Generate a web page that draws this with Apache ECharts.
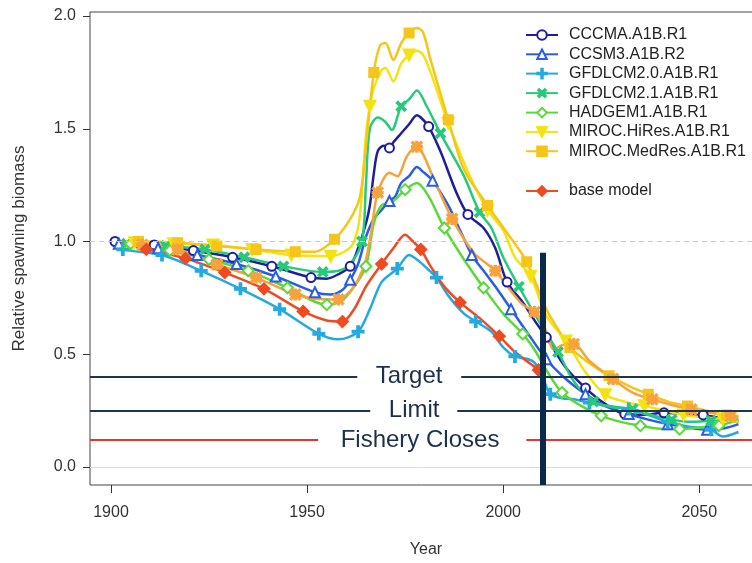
<!DOCTYPE html>
<html>
<head>
<meta charset="utf-8">
<script src="https://cdn.jsdelivr.net/npm/echarts@6/dist/echarts.min.js"></script>
<style>html,body{margin:0;padding:0;background:#fff}#c{width:752px;height:563px}</style>
</head>
<body>
<div id="c"></div>
<script>
// ---------- data ----------
const seriesNames = ['CCCMA.A1B.R1','CCSM3.A1B.R2','GFDLCM2.0.A1B.R1','GFDLCM2.1.A1B.R1','HADGEM1.A1B.R1','MIROC.HiRes.A1B.R1','MIROC.MedRes.A1B.R1','orange','base model'];
const xTicks = [1900, 1950, 2000, 2050];
const yTicks = [0, 0.5, 1.0, 1.5, 2.0];

const cccma = [[1901,1.0],[1911,0.985],[1921,0.96],[1931,0.93],[1941,0.89],[1951,0.84],[1955,0.835],[1958,0.855],[1961,0.89],[1963,0.97],[1965,1.08],[1966,1.16],[1967,1.3],[1968,1.4],[1969.5,1.425],[1971,1.415],[1972,1.44],[1974,1.48],[1976,1.52],[1978,1.56],[1979,1.55],[1981,1.51],[1984,1.4],[1988,1.22],[1991,1.12],[1995,1.06],[1998,0.97],[2001,0.82],[2005,0.73],[2008,0.65],[2011,0.575],[2016,0.44],[2021,0.35],[2026,0.28],[2031,0.235],[2036,0.232],[2041,0.24],[2046,0.235],[2051,0.231],[2056,0.215],[2060,0.2]];
const cccmaMarks = [1901,1911,1921,1931,1941,1951,1961,1971,1981,1991,2001,2011,2021,2031,2041,2051];

const ccsm3 = [[1901,1.0],[1902,0.99],[1912,0.97],[1922,0.94],[1932,0.9],[1942,0.845],[1952,0.775],[1956,0.765],[1959,0.785],[1961,0.83],[1963,0.9],[1965,1.02],[1967,1.1],[1969,1.14],[1971,1.18],[1972.5,1.2],[1974,1.26],[1976,1.29],[1978,1.33],[1979.5,1.31],[1982,1.27],[1986,1.16],[1989,1.05],[1992,0.94],[1995,0.87],[1998,0.8],[2002,0.7],[2006,0.6],[2011,0.478],[2016,0.39],[2021,0.323],[2026,0.27],[2032,0.235],[2037,0.21],[2042,0.19],[2047,0.175],[2052,0.165],[2056,0.17],[2060,0.19]];
const ccsm3Marks = [1902,1912,1922,1932,1942,1952,1961,1971,1982,1992,2002,2011,2021,2032,2042,2052];

const gfdl20 = [[1901,0.99],[1903,0.965],[1913,0.94],[1923,0.87],[1933,0.79],[1943,0.7],[1953,0.59],[1958,0.566],[1963,0.6],[1966,0.7],[1969,0.82],[1973,0.88],[1976,0.94],[1978,0.92],[1980,0.89],[1983,0.84],[1986,0.76],[1990,0.68],[1993,0.645],[1997,0.6],[2000,0.53],[2003,0.49],[2006,0.48],[2008,0.463],[2010,0.4],[2012,0.323],[2015,0.305],[2018,0.3],[2022,0.285],[2027,0.27],[2032,0.257],[2037,0.23],[2042,0.2],[2047,0.18],[2053,0.165],[2056,0.135],[2060,0.155]];
const gfdl20Marks = [1903,1913,1923,1933,1943,1953,1963,1973,1983,1993,2003,2012,2022,2032,2042,2053];

const gfdl21 = [[1901,1.0],[1904,0.99],[1914,0.98],[1924,0.965],[1934,0.93],[1944,0.89],[1954,0.865],[1958,0.87],[1961,0.9],[1964,1.0],[1965,1.25],[1966,1.5],[1968,1.55],[1970,1.53],[1971.6,1.495],[1974,1.6],[1976,1.63],[1978,1.67],[1980.5,1.6],[1984,1.48],[1990,1.29],[1994,1.13],[1997,1.06],[2000,0.93],[2004,0.8],[2009,0.65],[2014,0.51],[2018,0.38],[2023,0.29],[2028,0.265],[2033,0.257],[2038,0.23],[2043,0.21],[2048,0.2],[2053,0.205],[2060,0.21]];
const gfdl21Marks = [1904,1914,1924,1934,1944,1954,1964,1974,1984,1994,2004,2014,2023,2033,2043,2053];

const hadgem = [[1901,1.0],[1905,0.99],[1915,0.96],[1925,0.92],[1935,0.87],[1945,0.795],[1955,0.72],[1959,0.74],[1962,0.8],[1965,0.89],[1967,1.08],[1969,1.16],[1972,1.18],[1975,1.23],[1978,1.26],[1981,1.2],[1985,1.06],[1990,0.92],[1995,0.795],[2000,0.68],[2005,0.59],[2008,0.52],[2011,0.43],[2015,0.33],[2020,0.27],[2025,0.227],[2030,0.2],[2035,0.183],[2040,0.17],[2045,0.168],[2050,0.175],[2055,0.183],[2060,0.21]];
const hadgemMarks = [1905,1915,1925,1935,1945,1955,1965,1975,1985,1995,2005,2015,2025,2035,2045,2055];

const hires = [[1901,1.0],[1906,0.995],[1916,0.99],[1926,0.985],[1936,0.965],[1946,0.94],[1956,0.935],[1960,0.96],[1962,1.0],[1963.5,1.12],[1965,1.47],[1966,1.6],[1967,1.68],[1969,1.76],[1970,1.77],[1972,1.71],[1974,1.79],[1976,1.827],[1978,1.846],[1979.5,1.83],[1981.5,1.75],[1986,1.525],[1991.5,1.29],[1996,1.14],[2000,1.05],[2003,0.93],[2007,0.846],[2011,0.67],[2016,0.559],[2021,0.42],[2026,0.32],[2031,0.29],[2036,0.271],[2041,0.25],[2046,0.23],[2051,0.22],[2056,0.212],[2060,0.2]];
const hiresMarks = [1906,1916,1926,1936,1946,1956,1966,1976,1986,1996,2007,2016,2026,2036,2046,2056];

const medres = [[1901,1.0],[1907,1.0],[1917,0.995],[1927,0.98],[1937,0.965],[1947,0.955],[1952,0.955],[1957,1.01],[1961,1.1],[1963.5,1.2],[1965,1.42],[1967,1.75],[1968.6,1.87],[1970,1.88],[1972,1.805],[1974,1.88],[1976,1.925],[1978,1.947],[1979.5,1.93],[1981.5,1.805],[1986,1.54],[1990,1.32],[1996,1.16],[2000.5,1.05],[2006,0.91],[2011,0.7],[2014,0.61],[2017,0.53],[2022,0.46],[2027,0.405],[2032,0.36],[2037,0.323],[2042,0.29],[2047,0.27],[2052,0.25],[2057,0.23],[2060,0.227]];
const medresMarks = [1907,1917,1927,1937,1947,1957,1967,1976,1986,1996,2006,2017,2027,2037,2047,2057];

const orange = [[1901,1.0],[1908,0.985],[1917,0.965],[1927,0.898],[1937,0.84],[1947,0.765],[1953,0.745],[1958,0.743],[1961,0.78],[1963,0.83],[1965,0.92],[1966.5,1.06],[1968,1.217],[1971,1.305],[1973,1.29],[1975.5,1.38],[1978,1.42],[1979.5,1.39],[1982,1.29],[1987,1.1],[1992.5,0.95],[1998,0.87],[2002,0.78],[2005,0.72],[2008,0.687],[2010.5,0.62],[2013,0.52],[2015,0.54],[2018,0.545],[2022,0.47],[2028,0.39],[2033,0.33],[2038,0.3],[2043,0.275],[2048,0.255],[2053,0.24],[2058,0.225],[2060,0.22]];
const orangeMarks = [1908,1917,1927,1937,1947,1958,1968,1978,1987,1998,2008,2018,2028,2038,2048,2058];

const baseModel = [[1901,1.0],[1909,0.965],[1919,0.925],[1929,0.862],[1939,0.79],[1949,0.69],[1955,0.65],[1959,0.645],[1962,0.7],[1965,0.8],[1969,0.9],[1972,0.97],[1975,1.03],[1977,1.0],[1979,0.965],[1981.5,0.89],[1985,0.8],[1989,0.73],[1994,0.66],[1999,0.58],[2003,0.51],[2006,0.47],[2009,0.43],[2010,0.41]];
const baseMarks = [1909,1919,1929,1939,1949,1959,1969,1979,1989,1999,2009];

// reference levels
const refNames = ['Target', 'Limit', 'Fishery Closes'];
const refValues = [0.4, 0.25, 0.12];
const refGaps = [[1962.8, 1989.3], [1966.1, 1988.3], [1952.8, 2005.9]];
const refLabelYears = [1976.0, 1977.3, 1978.8];
const currentYear = 2010;
const currentLineTop = 0.95;

// ---------- chart ----------
const FONT = "'Liberation Sans', Arial, Helvetica, sans-serif";
const X_MIN = 1894.64, X_MAX = 2066;
const Y_MIN = -0.08, Y_MAX = 2.018;

const plusPath = 'path://M4.2,0h1.6v4.2h4.2v1.6h-4.2v4.2h-1.6v-4.2h-4.2v-1.6h4.2z';
const starPath = 'path://M4.3,0h1.4v10h-1.4z M0,4.3h10v1.4h-10z M0,1L1,0L10,9L9,10z M9,0L10,1L1,10L0,9z';

function build(pairs, marks) {
  return pairs.map(p => marks.indexOf(p[0]) >= 0 ? { value: p } : { value: p, symbol: 'none' });
}

const specs = [
  { data: cccma, marks: cccmaMarks, color: '#1f1f9c', symbol: 'emptyCircle', size: 9 },
  { data: ccsm3, marks: ccsm3Marks, color: '#2b5ce6', symbol: 'emptyTriangle', size: 10 },
  { data: gfdl20, marks: gfdl20Marks, color: '#25a9e0', symbol: plusPath, size: 11 },
  { data: gfdl21, marks: gfdl21Marks, color: '#27c97a', symbol: plusPath, size: 11, rotate: 45 },
  { data: hadgem, marks: hadgemMarks, color: '#5ad93a', symbol: 'emptyDiamond', size: 11 },
  { data: hires, marks: hiresMarks, color: '#f2e311', symbol: 'triangle', size: 11, rotate: 180 },
  { data: medres, marks: medresMarks, color: '#f6c51a', symbol: 'rect', size: 9 },
  { data: orange, marks: orangeMarks, color: '#f7a23a', symbol: starPath, size: 10 },
  { data: baseModel, marks: baseMarks, color: '#ef4a22', symbol: 'diamond', size: 11 }
];

const series = specs.map((s, i) => ({
  name: seriesNames[i],
  type: 'line',
  z: 3,
  smooth: 0.3,
  data: build(s.data, s.marks),
  symbol: s.symbol,
  symbolSize: s.size,
  symbolRotate: s.rotate || 0,
  showSymbol: true,
  lineStyle: { color: s.color, width: 2.5 },
  itemStyle: { color: s.color, borderColor: s.color, borderWidth: 2 },
  emphasis: { disabled: true }
}));

// background guide lines (1.0 dashed, 0 solid)
series.unshift({
  name: 'guides', type: 'line', data: [], z: 1, silent: true,
  markLine: {
    silent: true, symbol: ['none', 'none'], animation: false, label: { show: false },
    data: [
      [{ coord: [X_MIN, 1.0], lineStyle: { color: '#c8c8c8', width: 1, type: [5, 4] } }, { coord: [X_MAX, 1.0] }],
      [{ coord: [X_MIN, 0], lineStyle: { color: '#dcdcdc', width: 1, type: 'solid' } }, { coord: [X_MAX, 0] }]
    ]
  }
});

// reference lines + labels + current year line
const refLineData = [];
const refColors = ['#1d3553', '#1d3553', '#e8352c'];
refValues.forEach((v, i) => {
  const ls = { color: refColors[i], width: 2, type: 'solid' };
  refLineData.push([{ coord: [X_MIN, v], lineStyle: ls }, { coord: [refGaps[i][0], v] }]);
  refLineData.push([{ coord: [refGaps[i][1], v], lineStyle: ls }, { coord: [X_MAX, v] }]);
});
refLineData.push([{ coord: [currentYear, currentLineTop], lineStyle: { color: '#0b2a4a', width: 6, type: 'solid' } }, { coord: [currentYear, Y_MIN] }]);

series.push({
  name: 'refs', type: 'line', data: [], z: 6, silent: true,
  markLine: { silent: true, symbol: ['none', 'none'], animation: false, label: { show: false }, data: refLineData },
  markPoint: {
    silent: true, animation: false,
    symbol: 'rect', symbolSize: 1, itemStyle: { color: 'rgba(0,0,0,0)' },
    label: { show: true, position: 'inside', formatter: '{b}', fontSize: 24, fontFamily: FONT, color: '#1c2f4b' },
    data: refNames.map((n, i) => ({ name: n, coord: [refLabelYears[i], refValues[i]] }))
  }
});

const legendText = { fontSize: 16, lineHeight: 16, color: '#222', fontFamily: FONT, padding: [0, 0, 0, 6] };

const option = {
  animation: false,
  backgroundColor: '#fff',
  grid: { left: 90, top: 12, width: 672, height: 473, show: true, borderColor: '#444', borderWidth: 1, backgroundColor: 'transparent', containLabel: false, outerBoundsMode: 'none' },
  legend: [
    { data: seriesNames.slice(0, 7), orient: 'vertical', left: 520, top: 22, itemWidth: 32, itemHeight: 12, itemGap: 3.3, textStyle: legendText, selectedMode: false },
    { data: ['base model'], orient: 'vertical', left: 520, top: 178, itemWidth: 32, itemHeight: 12, textStyle: legendText, selectedMode: false }
  ],
  xAxis: {
    type: 'value', min: X_MIN, max: X_MAX,
    name: 'Year', nameLocation: 'middle', nameGap: 57,
    nameTextStyle: { fontSize: 16, color: '#333', fontFamily: FONT },
    axisLine: { show: false, onZero: false },
    splitLine: { show: false },
    axisTick: { show: true, customValues: xTicks, length: 8, lineStyle: { color: '#333' } },
    axisLabel: { customValues: xTicks, margin: 20, fontSize: 16, color: '#333', fontFamily: FONT, formatter: v => String(v) }
  },
  yAxis: {
    type: 'value', min: Y_MIN, max: Y_MAX,
    name: 'Relative spawning biomass', nameLocation: 'middle', nameGap: 62,
    nameTextStyle: { fontSize: 17, color: '#333', fontFamily: FONT },
    axisLine: { show: false, onZero: false },
    splitLine: { show: false },
    axisTick: { show: true, customValues: yTicks, length: 7, lineStyle: { color: '#333' } },
    axisLabel: { customValues: yTicks, margin: 14, fontSize: 16, color: '#333', fontFamily: FONT, formatter: v => v.toFixed(1) }
  },
  series: series
};

const chart = echarts.init(document.getElementById('c'), null, { renderer: 'canvas' });
chart.setOption(option);
</script>
</body>
</html>
